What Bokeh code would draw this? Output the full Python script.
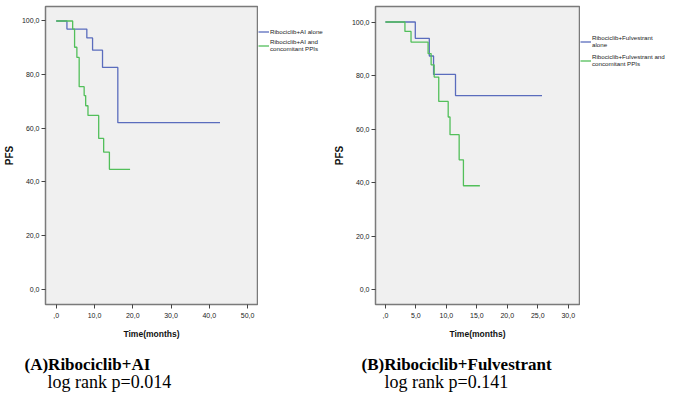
from bokeh.plotting import figure
from bokeh.models import FixedTicker, Range1d, Legend, LegendItem, Label
from bokeh.layouts import row, column
from bokeh.embed import file_html
from bokeh.resources import INLINE

# ---- data ----
# Panel A: Ribociclib + AI
a_alone_t = [0, 2.8, 8.0, 9.5, 12.1, 16.1, 42.8]
a_alone_s = [100, 97.0, 93.7, 89.1, 82.7, 62.1, 62.1]
a_ppi_t = [0, 4.3, 4.8, 5.4, 6.0, 7.3, 7.7, 8.3, 11.1, 12.4, 13.9, 19.3]
a_ppi_s = [100, 97.0, 90.2, 86.4, 75.5, 72.2, 68.4, 64.8, 56.2, 51.1, 44.7, 44.7]
# Panel B: Ribociclib + Fulvestrant
b_alone_t = [0, 4.9, 7.2, 7.9, 11.5, 25.7]
b_alone_s = [100, 93.9, 87.3, 80.4, 72.5, 72.5]
b_ppi_t = [0, 3.2, 4.2, 7.0, 7.5, 8.0, 8.75, 10.3, 10.6, 12.1, 12.8, 15.5]
b_ppi_s = [100, 96.5, 92.5, 88.2, 84.0, 79.4, 70.3, 64.5, 57.9, 48.5, 38.8, 38.8]

y_ticks = [0, 20, 40, 60, 80, 100]
y_labels = ["0,0", "20,0", "40,0", "60,0", "80,0", "100,0"]
a_x_ticks = [0, 10, 20, 30, 40, 50]
a_x_labels = [",0", "10,0", "20,0", "30,0", "40,0", "50,0"]
b_x_ticks = [0, 5, 10, 15, 20, 25, 30]
b_x_labels = [",0", "5,0", "10,0", "15,0", "20,0", "25,0", "30,0"]

a_labels = ["Ribociclib+AI alone", "Ribociclib+AI and\nconcomitant PPIs"]
b_labels = ["Ribociclib+Fulvestrant\nalone", "Ribociclib+Fulvestrant and\nconcomitant PPIs"]
a_caption = ["(A)Ribociclib+AI", "log rank p=0.014"]
b_caption = ["(B)Ribociclib+Fulvestrant", "log rank p=0.141"]

BLUE = "#5a6cbd"
GREEN = "#52bf5a"
SANS = "Liberation Sans"
SERIF = "Liberation Serif"
HP = 342          # height of the plot row
HC = 392 - HP     # height of the caption row


def plot_panel(width, mbl, mbr, mbt, mbb, xr, yr, xt, xl, series):
    p = figure(width=width, height=HP, output_backend="svg",
               toolbar_location=None, x_range=Range1d(*xr), y_range=Range1d(*yr),
               min_border_left=mbl, min_border_right=mbr,
               min_border_top=mbt, min_border_bottom=mbb)
    p.background_fill_color = "#f0f0f0"
    p.border_fill_color = "white"
    p.outline_line_color = "#7a7a7a"
    p.outline_line_width = 1.5
    p.xgrid.visible = False
    p.ygrid.visible = False

    for (t, s, c) in series:
        p.step(t, s, mode="after", line_color=c, line_width=1.3)

    for ax in (p.xaxis[0], p.yaxis[0]):
        ax.axis_line_color = None
        ax.major_tick_in = 0
        ax.major_tick_out = 4
        ax.major_tick_line_color = "#444444"
        ax.minor_tick_line_color = None
        ax.major_label_text_font = SANS
        ax.major_label_text_font_size = "7px"
        ax.major_label_text_color = "#222222"
        ax.axis_label_text_font = SANS
        ax.axis_label_text_font_style = "bold"
        ax.axis_label_text_color = "#111111"

    p.xaxis.ticker = FixedTicker(ticks=xt)
    p.xaxis.major_label_overrides = {v: l for v, l in zip(xt, xl)}
    p.xaxis.major_label_standoff = 4
    p.yaxis.ticker = FixedTicker(ticks=y_ticks)
    p.yaxis.major_label_overrides = {v: l for v, l in zip(y_ticks, y_labels)}
    p.yaxis.major_label_standoff = 2
    p.xaxis.axis_label = "Time(months)"
    p.xaxis.axis_label_text_font_size = "8.5px"
    p.xaxis.axis_label_standoff = 8
    p.yaxis.axis_label = "PFS"
    p.yaxis.axis_label_text_font_size = "10px"
    p.yaxis.axis_label_standoff = 4
    return p


def legend_panel(width, labels, series, top_gap, spacing):
    # the legend sits in its own strip right of the plot; its sample lines
    # come from renderers of the same series whose marks fall outside this
    # strip's (off-screen) ranges, so only the legend is seen here
    lf = figure(width=width, height=HP, output_backend="svg", toolbar_location=None,
                x_axis_type=None, y_axis_type=None, min_border=0,
                x_range=Range1d(-2000, -1999), y_range=Range1d(-2000, -1999))
    lf.outline_line_color = None
    lf.background_fill_color = "white"
    lf.border_fill_color = "white"
    rs = [lf.step(t, s, mode="after", line_color=c, line_width=1.3)
          for (t, s, c) in series]
    legend = Legend(items=[LegendItem(label=labels[i], renderers=[rs[i]])
                           for i in range(len(labels))],
                    location="top_left")
    legend.title = " "
    legend.title_text_font_size = "8px"
    legend.title_standoff = top_gap
    legend.padding = 0
    legend.margin = 0
    legend.spacing = spacing
    legend.label_standoff = 1
    legend.glyph_width = 11
    legend.glyph_height = 9
    legend.label_height = 9
    legend.label_text_font = SANS
    legend.label_text_font_size = "6.2px"
    legend.label_text_color = "#222222"
    legend.label_text_line_height = 1.55
    legend.border_line_alpha = 0
    legend.background_fill_alpha = 0
    lf.add_layout(legend, "center")
    return lf


def caption_panel(width, caption, xs):
    cf = figure(width=width, height=HC, output_backend="svg", toolbar_location=None,
                x_axis_type=None, y_axis_type=None, min_border=0,
                x_range=Range1d(0, width), y_range=Range1d(0, HC))
    cf.outline_line_color = None
    cf.background_fill_color = "white"
    cf.border_fill_color = "white"
    cf.add_layout(Label(x=xs[0], y=HC - 22, text=caption[0], text_font=SERIF,
                        text_font_style="bold", text_font_size="17px",
                        text_baseline="middle", text_color="black"))
    cf.add_layout(Label(x=xs[1], y=11, text=caption[1], text_font=SERIF,
                        text_font_style="normal", text_font_size="18px",
                        text_baseline="middle", text_color="black"))
    return cf


a_series = [(a_alone_t, a_alone_s, BLUE), (a_ppi_t, a_ppi_s, GREEN)]
b_series = [(b_alone_t, b_alone_s, BLUE), (b_ppi_t, b_ppi_s, GREEN)]

pa = plot_panel(258, 34, 1, 1, 36, (-2.8, 52.6), (-5.7, 105.4), a_x_ticks, a_x_labels,
                a_series)
la = legend_panel(72, a_labels, a_series, 12, 2)
pb = plot_panel(250, 34, 1, 6, 38, (-1.63, 31.85), (-5.6, 105.8), b_x_ticks, b_x_labels,
                b_series)
lb = legend_panel(89, b_labels, b_series, 19, 5)
ca = caption_panel(330, a_caption, (24, 47))
cb = caption_panel(339, b_caption, (31, 54))

layout = column(row(pa, la, pb, lb), row(ca, cb))
open("out.html", "w").write(file_html(layout, INLINE))
